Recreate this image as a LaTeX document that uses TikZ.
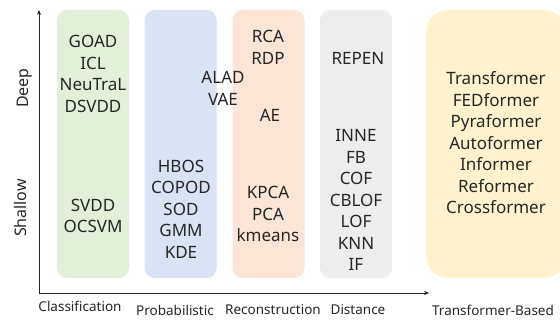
\documentclass[tikz,border=0pt]{standalone}
\usepackage{fontspec}
\setmainfont{Noto Sans}
\usetikzlibrary{arrows.meta, positioning}
\definecolor{clsgreen}{HTML}{E2F0D9}
\definecolor{problue}{HTML}{DAE3F3}
\definecolor{recorange}{HTML}{FBE5D6}
\definecolor{distgray}{HTML}{EDEDED}
\definecolor{tfyellow}{HTML}{FFF2CC}
\definecolor{txtdark}{HTML}{262626}

\begin{document}
\begin{tikzpicture}[
      x=1pt, y=-1pt,
      group/.style={rectangle, rounded corners=10pt, minimum width=72pt, minimum height=268pt, inner sep=0pt},
      model/.style={align=center, text=txtdark, inner sep=0pt, font=\fontsize{17}{21.5}\selectfont},
      axislabel/.style={text=txtdark, font=\fontsize{16}{18}\selectfont, rotate=90},
      catlabel/.style={text=txtdark, font=\fontsize{13.5}{16}\selectfont}
    ]
      \useasboundingbox (0,0) rectangle (560,320);

      % Category columns
      \node[group, fill=clsgreen] (Gcls) at (93,144) {};
      \node[group, fill=problue] (Gpro) at (180.5,144) {};
      \node[group, fill=recorange] (Grec) at (268.5,144) {};
      \node[group, fill=distgray] (Gdist) at (356,144) {};
      \node[group, fill=tfyellow, rounded corners=22pt, minimum width=140pt] (Gtf) at (496,144) {};

      % Models
      \node[model] (Mclsdeep) at (93,74) {GOAD\\ICL\\NeuTraL\\DSVDD};
      \node[model] (Mclsshal) at (93,216) {SVDD\\OCSVM};
      \node[model] (Mproshal) at (181,209) {HBOS\\COPOD\\SOD\\GMM\\KDE};
      \node[model] (Mprodeep) at (223,88.5) {ALAD\\VAE};
      \node[model] (Mrecdeep) at (268,47.5) {RCA\\RDP};
      \node[model] (Mae) at (270,115) {AE};
      \node[model] (Mrecshal) at (268,214) {KPCA\\PCA\\kmeans};
      \node[model] (Mdistdeep) at (358,58) {REPEN};
      \node[model] (Mdistshal) at (356,200) {INNE\\FB\\COF\\CBLOF\\LOF\\KNN\\IF};
      \node[model] (Mtf) at (496,143) {Transformer\\FEDformer\\Pyraformer\\Autoformer\\Informer\\Reformer\\Crossformer};

      % Axes
      \coordinate (O) at (39,293);
      \coordinate (Ytop) at (39,10);
      \coordinate (Xend) at (429,293);
      \draw[-{Stealth[length=5pt, width=4pt]}, line width=0.8pt, txtdark] (O) -- (Ytop);
      \draw[-{Stealth[length=5pt, width=4pt]}, line width=0.8pt, txtdark] (O) -- (Xend);

      % Axis labels
      \node[axislabel] (Ldeep) at (25,88) {Deep};
      \node[axislabel] (Lshal) at (21,208) {Shallow};
      \node[catlabel] (Lcls) at (80,306) {Classification};
      \node[catlabel] (Lpro) at (175,310) {Probabilistic};
      \node[catlabel] (Lrec) at (273,310) {Reconstruction};
      \node[catlabel] (Ldist) at (358,310) {Distance};
      \node[catlabel] (Ltf) at (493,310) {Transformer-Based};
    \end{tikzpicture}
\end{document}
